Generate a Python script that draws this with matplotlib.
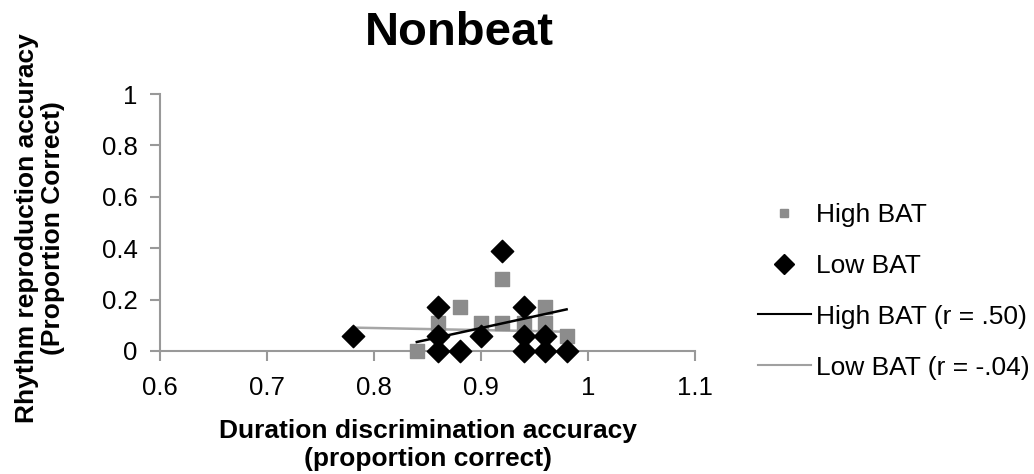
import matplotlib
matplotlib.use("Agg")
import matplotlib.pyplot as plt
from matplotlib.lines import Line2D

plt.rcParams['font.family'] = ['Liberation Sans', 'DejaVu Sans']

# High BAT group (gray squares)
high_x = [0.84, 0.86, 0.88, 0.90, 0.92, 0.92, 0.94, 0.96, 0.96, 0.98]
high_y = [0.00, 0.11, 0.17, 0.11, 0.28, 0.11, 0.11, 0.17, 0.11, 0.06]

# Low BAT group (black diamonds)
low_x = [0.78, 0.86, 0.86, 0.86, 0.88, 0.90, 0.92, 0.94, 0.94, 0.94, 0.96, 0.96, 0.98]
low_y = [0.06, 0.17, 0.06, 0.00, 0.00, 0.06, 0.39, 0.17, 0.06, 0.00, 0.06, 0.00, 0.00]

# linear trend lines (end points)
high_fit_x = [0.84, 0.98]
high_fit_y = [0.035, 0.162]
low_fit_x = [0.78, 0.98]
low_fit_y = [0.091, 0.075]

x_ticks = [0.6, 0.7, 0.8, 0.9, 1.0, 1.1]
x_tick_labels = ['0.6', '0.7', '0.8', '0.9', '1', '1.1']
y_ticks = [0, 0.2, 0.4, 0.6, 0.8, 1.0]
y_tick_labels = ['0', '0.2', '0.4', '0.6', '0.8', '1']

gray = '#8c8c8c'
axis_gray = '#999999'

fig = plt.figure(figsize=(10.34, 4.74), dpi=100)
ax = fig.add_axes([160 / 1034, 1 - 351 / 474, 535 / 1034, 257 / 474])

ax.scatter(high_x, high_y, marker='s', s=90, color=gray, zorder=3, clip_on=False)
ax.scatter(low_x, low_y, marker='D', s=130, color='black', zorder=4, clip_on=False)
ax.plot(high_fit_x, high_fit_y, color='black', lw=1.8, zorder=5)
ax.plot(low_fit_x, low_fit_y, color='#a6a6a6', lw=1.8, zorder=2)

ax.set_xlim(0.6, 1.1)
ax.set_ylim(0, 1.0)
ax.set_xticks(x_ticks)
ax.set_xticklabels(x_tick_labels)
ax.set_yticks(y_ticks)
ax.set_yticklabels(y_tick_labels)

for side in ['top', 'right']:
    ax.spines[side].set_visible(False)
for side in ['left', 'bottom']:
    ax.spines[side].set_color(axis_gray)
    ax.spines[side].set_linewidth(1.5)
ax.tick_params(axis='both', direction='out', length=7, width=1.5, color=axis_gray,
               labelsize=18.5)
ax.tick_params(axis='x', pad=11)
ax.tick_params(axis='y', pad=9)

ax.set_xlabel('Duration discrimination accuracy\n(proportion correct)',
              fontsize=19, fontweight='bold', labelpad=14, linespacing=1.2)
fig.text(0.039, 0.519, 'Rhythm reproduction accuracy\n(Proportion Correct)',
         rotation=90, ha='center', va='center', fontsize=19, fontweight='bold',
         linespacing=1.1)

fig.text(0.444, 0.93, 'Nonbeat', ha='center', va='center', fontsize=34, fontweight='bold')

handles = [
    Line2D([], [], marker='s', color=gray, linestyle='None', markersize=6),
    Line2D([], [], marker='D', color='black', linestyle='None', markersize=10),
    Line2D([], [], color='black', lw=1.5),
    Line2D([], [], color='#a0a0a0', lw=1.5),
]
labels = ['High BAT', 'Low BAT', 'High BAT (r = .50)', 'Low BAT (r = -.04)']
fig.legend(handles, labels, loc='upper left', bbox_to_anchor=(0.733, 0.572),
           frameon=False, fontsize=19, handlelength=2.0, handletextpad=0.2,
           labelspacing=1.02, borderaxespad=0, borderpad=0)

fig.savefig('out.png', dpi=100)
